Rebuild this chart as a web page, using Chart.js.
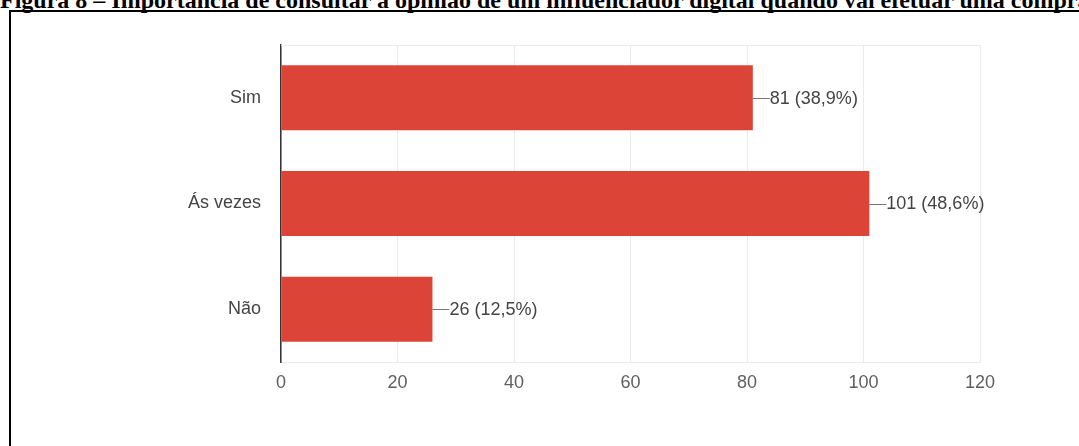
<!DOCTYPE html>
<html>
<head>
<meta charset="utf-8">
<script src="https://cdn.jsdelivr.net/npm/chart.js@4/dist/chart.umd.min.js"></script>
<style>
  html, body { margin: 0; padding: 0; background: #fff; overflow: hidden; }
  #wrap { position: relative; width: 1079px; height: 446px; overflow: hidden; }
  #title { position: absolute; left: 0px; top: -12px; white-space: nowrap; line-height: 24px;
           font-family: "Liberation Serif", "Times New Roman", serif; font-weight: bold;
           font-size: 24px; color: #000; }
  #frame { position: absolute; left: 9px; top: 10px; width: 1200px; height: 600px;
           border-left: 2px solid #000; border-top: 2px solid #000; }
  canvas { position: absolute; left: 0; top: 0; }
</style>
</head>
<body>
<div id="wrap">
  <div id="title">Figura 8 – Importância de consultar a opinião de um influenciador digital quando vai efetuar uma compra</div>
  <div id="frame"></div>
  <canvas id="c" width="1079" height="446"></canvas>
</div>
<script>
const categories = ["Sim", "Ás vezes", "Não"];
const counts = [81, 101, 26];
const percents = ["38,9%", "48,6%", "12,5%"];
const xTicks = [0, 20, 40, 60, 80, 100, 120];

const FONT = '"Liberation Sans", Arial, sans-serif';

const labelPlugin = {
  id: 'valueLabels',
  afterDatasetsDraw(chart) {
    const ctx = chart.ctx;
    const meta = chart.getDatasetMeta(0);
    const area = chart.chartArea;
    ctx.save();
    ctx.strokeStyle = '#ebebeb';
    ctx.lineWidth = 1;
    ctx.beginPath();
    ctx.moveTo(area.left, area.top + 0.5);
    ctx.lineTo(area.right, area.top + 0.5);
    ctx.stroke();
    meta.data.forEach((bar, i) => {
      const x = bar.x, y = bar.y;
      ctx.strokeStyle = '#777';
      ctx.lineWidth = 1;
      ctx.beginPath();
      ctx.moveTo(x, Math.round(y) + 0.5);
      ctx.lineTo(x + 17, Math.round(y) + 0.5);
      ctx.stroke();
      ctx.fillStyle = '#444';
      ctx.font = '18px ' + FONT;
      ctx.textAlign = 'left';
      ctx.textBaseline = 'middle';
      ctx.fillText(counts[i] + ' (' + percents[i] + ')', x + 17, y + 1);
    });
    ctx.restore();
  }
};

new Chart(document.getElementById('c'), {
  type: 'bar',
  data: {
    labels: categories,
    datasets: [{
      data: counts,
      backgroundColor: '#db4437',
      borderWidth: 0,
      categoryPercentage: 1,
      barPercentage: 0.615
    }]
  },
  options: {
    indexAxis: 'y',
    responsive: false,
    animation: false,
    devicePixelRatio: 1,
    layout: { padding: { top: 45, right: 99, left: 0, bottom: 0 } },
    plugins: { legend: { display: false }, tooltip: { enabled: false } },
    scales: {
      x: {
        min: 0, max: 120,
        afterBuildTicks(scale) { scale.ticks = xTicks.map(v => ({ value: v })); },
        afterFit(scale) { scale.height = 84; },
        grid: { color: '#ebebeb', drawTicks: false },
        border: { color: '#ebebeb' },
        ticks: { padding: 10, color: '#5f5f5f', font: { family: FONT, size: 18 } }
      },
      y: {
        afterFit(scale) { scale.width = 281; },
        grid: { display: false, drawTicks: false },
        border: { color: '#333', width: 1.5 },
        ticks: { padding: 20, color: '#444', font: { family: FONT, size: 18 } }
      }
    }
  },
  plugins: [labelPlugin]
});
</script>
</body>
</html>
